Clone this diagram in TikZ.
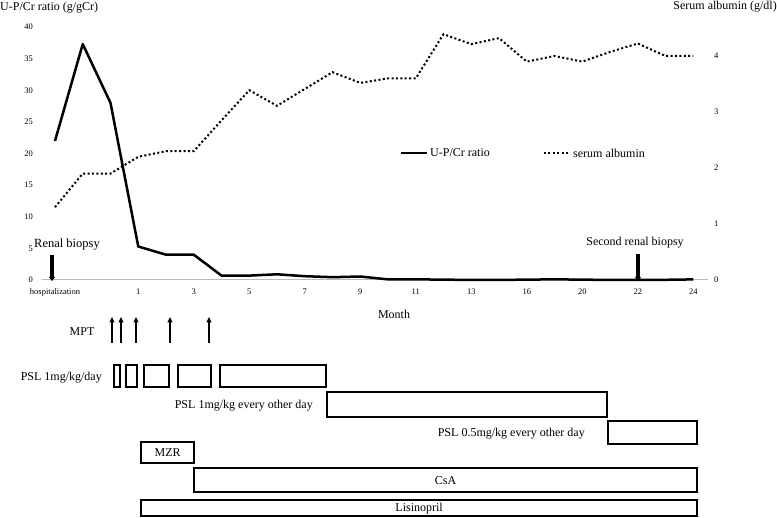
\documentclass[tikz,border=0pt]{standalone}
\usepackage{fontspec}
\setmainfont{Liberation Serif}
\usetikzlibrary{arrows.meta}
\begin{document}
\begin{tikzpicture}[x=1pt,y=-1pt,
  ticklbl/.style={font=\fontsize{8.5}{10}\selectfont, inner sep=0pt},
  lbl/.style={font=\fontsize{12}{14}\selectfont, inner sep=0pt},
  bar/.style={draw, line width=2.3pt, inner sep=0pt, anchor=north west, font=\fontsize{12}{14}\selectfont},
  upcr/.style={line width=2.5pt, line join=round},
  alb/.style={line width=2pt, dash pattern=on 2pt off 2.4pt},
  mptarrow/.style={line width=1.7pt, -{Triangle[length=5.5pt,width=5pt]}},
  bioarrow/.style={line width=3.2pt, -{Triangle[length=4pt,width=6pt]}}
]
\useasboundingbox (0,0) rectangle (777,518);

% titles
\node[lbl, anchor=west] (ltitle) at (0,8) {U-P/Cr ratio (g/gCr)};
\node[lbl, anchor=east] (rtitle) at (777,7) {Serum albumin (g/dl)};

% left axis labels
\foreach \v [count=\k] in {0,5,10,15,20,25,30,35,40}{
  \node[ticklbl, anchor=east] (l\k) at (33,{280-6.325*\v}) {\v};
}
% right axis labels
\foreach \v [count=\k] in {0,1,2,3,4}{
  \node[ticklbl, anchor=west] (r\k) at (714,{280-56*\v}) {\v};
}

% x axis
\coordinate (ax0) at (42,280);
\coordinate (ax1) at (708,280);
\draw[gray!55, line width=1pt] (ax0) -- (ax1);

% x labels
\node[ticklbl] (xh) at (55,292) {hospitalization};
\foreach \i/\t in {3/1,5/3,7/5,9/7,11/9,13/11,15/13,17/16,19/20,21/22,23/24}{
  \node[ticklbl] (x\i) at ({55+27.75*\i},292) {\t};
}
\node[lbl] (month) at (394,314) {Month};

% U-P/Cr line
\draw[upcr] plot coordinates {
 (55,140.9) (82.75,44.1) (110.5,102.9) (138.25,246.5) (166,254.7) (193.75,254.7)
 (221.5,275.6) (249.25,275.6) (277,274.3) (304.75,276.2) (332.5,277.2) (360.25,276.5)
 (388,279.4) (415.75,279.4) (443.5,279.6) (471.25,280) (499,280) (526.75,279.6)
 (554.5,279.4) (582.25,279.6) (610,280) (637.75,280) (665.5,279.8) (693.25,279.4)};

% albumin line
\draw[alb] plot coordinates {
 (55,207.2) (82.75,173.6) (110.5,173.6) (138.25,156.8) (166,151.2) (193.75,151.2)
 (221.5,120.4) (249.25,90.2) (277,105.8) (304.75,89) (332.5,72.2) (360.25,82.9)
 (388,78.4) (415.75,78.4) (443.5,34.2) (471.25,44.2) (499,38.1) (526.75,61.6)
 (554.5,56) (582.25,61.6) (610,52) (637.75,43.5) (665.5,56) (693.25,56)};

% legend
\coordinate (lg1a) at (401,153);
\coordinate (lg1b) at (427,153);
\draw[upcr] (lg1a) -- (lg1b);
\node[lbl, anchor=west] (lg1) at (430,153) {U-P/Cr ratio};
\coordinate (lg2a) at (544,153);
\coordinate (lg2b) at (568,153);
\draw[alb] (lg2a) -- (lg2b);
\node[lbl, anchor=west] (lg2) at (573,153) {serum albumin};

% biopsies
\node[font=\fontsize{12.5}{14}\selectfont, inner sep=0pt, anchor=west] (bio1) at (34,245) {Renal biopsy};
\coordinate (bio1s) at (52,255);
\coordinate (bio1e) at (52,281);
\draw[bioarrow] (bio1s) -- (bio1e);
\node[lbl] (bio2) at (635,243) {Second renal biopsy};
\coordinate (bio2s) at (638,254);
\coordinate (bio2e) at (638,281);
\draw[bioarrow] (bio2s) -- (bio2e);

% MPT
\node[lbl] (mpt) at (82,332) {MPT};
\foreach \x [count=\k] in {112,121,136,170,209}{
  \coordinate (ms\k) at (\x,343);
  \coordinate (me\k) at (\x,317);
  \draw[mptarrow] (ms\k) -- (me\k);
}

% PSL 1mg/kg/day
\node[lbl, anchor=east] (psl1t) at (102,378) {PSL 1mg/kg/day};
\node[bar, minimum width=6pt, minimum height=22pt] (p1) at (113,364) {};
\node[bar, minimum width=11pt, minimum height=22pt] (p2) at (125,364) {};
\node[bar, minimum width=25pt, minimum height=22pt] (p3) at (143,364) {};
\node[bar, minimum width=33pt, minimum height=22pt] (p4) at (177,364) {};
\node[bar, minimum width=106pt, minimum height=22pt] (p5) at (219,364) {};

% PSL every other day
\node[lbl, anchor=east] (psl2t) at (313,406) {PSL 1mg/kg every other day};
\node[bar, minimum width=280pt, minimum height=25pt] (p6) at (326,391) {};

% PSL 0.5
\node[lbl, anchor=east] (psl3t) at (585,434) {PSL 0.5mg/kg every other day};
\node[bar, minimum width=89pt, minimum height=23pt] (p7) at (607,420) {};

% MZR, CsA, Lisinopril
\node[bar, minimum width=53pt, minimum height=21pt] (mzr) at (140,441) {MZR};
\node[bar, minimum width=503pt, minimum height=24pt] (csa) at (193,467) {CsA};
\node[bar, minimum width=556pt, minimum height=16pt] (lis) at (140,499) {Lisinopril};
\end{tikzpicture}
\end{document}
